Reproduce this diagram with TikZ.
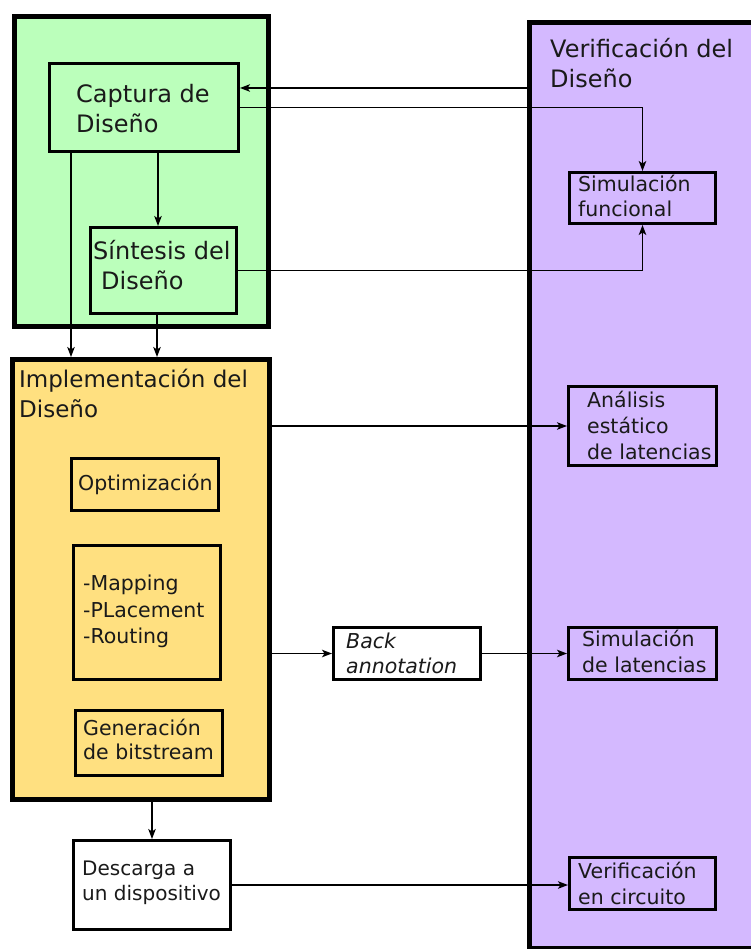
\documentclass[tikz,border=0pt]{standalone}
\usepackage{fontspec}
\setmainfont{DejaVu Sans}
\usetikzlibrary{arrows.meta}
\definecolor{capgreen}{HTML}{BBFFBB}
\definecolor{impyellow}{HTML}{FFE080}
\definecolor{verpurple}{HTML}{D4B9FF}
\definecolor{ink}{HTML}{1A1A1A}
\begin{document}
\begin{tikzpicture}[x=1pt,y=-1pt,
  stage/.style={draw=black,line width=5pt,inner sep=0pt,anchor=north west},
  blockbox/.style={draw=black,line width=3pt,inner sep=0pt,anchor=north west},
  arr/.style={line width=1.5pt,-{Stealth[length=10pt,width=7.5pt,inset=2.5pt]}},
  bigtxt/.style={anchor=base west,inner sep=0pt,text=ink,font=\fontsize{24}{28}\selectfont},
  midtxt/.style={anchor=base west,inner sep=0pt,text=ink,font=\fontsize{23}{28}\selectfont},
  smalltxt/.style={anchor=base west,inner sep=0pt,text=ink,font=\fontsize{20.5}{25}\selectfont},
  tinytxt/.style={anchor=base west,inner sep=0pt,text=ink,font=\fontsize{20}{24}\selectfont},
]
\useasboundingbox (0,0) rectangle (750,949);

% --- stage frames (positions are outer corners) ---
\node[stage,fill=capgreen,minimum width=254,minimum height=310] (capstage) at (12,14) {};
\node[stage,fill=impyellow,minimum width=257,minimum height=440] (impl) at (10,357) {};
\node[stage,fill=verpurple,minimum width=240,minimum height=926] (ver) at (527,20) {};

% --- blocks ---
\node[blockbox,minimum width=189,minimum height=88] (cap) at (48,62) {};
\node[blockbox,minimum width=146,minimum height=86] (sin) at (89,226) {};
\node[blockbox,minimum width=147,minimum height=52] (opt) at (70,457) {};
\node[blockbox,minimum width=147,minimum height=134] (map) at (72,544) {};
\node[blockbox,minimum width=147,minimum height=65] (gen) at (74,709) {};
\node[blockbox,minimum width=146,minimum height=51] (simf) at (568,171) {};
\node[blockbox,minimum width=148,minimum height=79] (ana) at (567,385) {};
\node[blockbox,fill=white,minimum width=147,minimum height=52] (back) at (332,626) {};
\node[blockbox,minimum width=148,minimum height=52] (siml) at (567,626) {};
\node[blockbox,fill=white,minimum width=157,minimum height=89] (desc) at (72,839) {};
\node[blockbox,minimum width=146,minimum height=52] (verif) at (568,856) {};

% --- helper coordinates for connector positions ---
\coordinate (fb) at (0,88);
\coordinate (xA) at (158,0);
\coordinate (xB) at (71,0);
\coordinate (xC) at (157,0);

% --- connectors ---
\draw[arr] (ver.west |- fb) -- (cap.east |- fb);
\draw[arr] (cap.east) -| (simf.north);
\draw[arr] (sin.east) -| (simf.south);
\draw[arr] (cap.south -| xA) -- (sin.north -| xA);
\draw[arr] (cap.south -| xB) -- (impl.north -| xB);
\draw[arr] (sin.south -| xC) -- (impl.north -| xC);
\draw[arr] (impl.east |- ana.west) -- (ana.west);
\draw[arr] (impl.east |- back.west) -- (back.west);
\draw[arr] (back.east) -- (siml.west);
\draw[arr] (impl.south -| desc.north) -- (desc.north);
\draw[arr] (desc.east) -- (verif.west |- desc.east);

% --- labels ---
\node[bigtxt] (capA) at (76,103) {Captura de};
\node[bigtxt] (capB) at (76,133) {Diseño};
\node[bigtxt] (sinA) at (93,260) {Síntesis del};
\node[bigtxt] (sinB) at (101,290) {Diseño};
\node[midtxt] (impA) at (19,387) {Implementación del};
\node[midtxt] (impB) at (19,417) {Diseño};
\node[bigtxt] (verA) at (550,58) {Verificación del};
\node[bigtxt] (verB) at (550,88) {Diseño};
\node[smalltxt] (optA) at (78,490) {Optimización};
\node[smalltxt] (mapA) at (83,590) {-Mapping};
\node[smalltxt] (mapB) at (83,617) {-PLacement};
\node[smalltxt] (mapC) at (83,643) {-Routing};
\node[smalltxt] (genA) at (83,735) {Generación};
\node[smalltxt] (genB) at (83,759) {de bitstream};
\node[smalltxt] (simfA) at (578,192) {Simulación};
\node[smalltxt] (simfB) at (578,217) {funcional};
\node[smalltxt] (anaA) at (587,407) {Análisis};
\node[smalltxt] (anaB) at (587,433) {estático};
\node[smalltxt] (anaC) at (587,459) {de latencias};
\node[smalltxt] (simlA) at (582,646) {Simulación};
\node[smalltxt] (simlB) at (582,672) {de latencias};
\node[smalltxt,font=\fontsize{20.5}{25}\selectfont\itshape] (backA) at (346,648) {Back};
\node[smalltxt,font=\fontsize{20.5}{25}\selectfont\itshape] (backB) at (346,673) {annotation};
\node[tinytxt] (descA) at (82,875) {Descarga a};
\node[tinytxt] (descB) at (82,900) {un dispositivo};
\node[smalltxt] (verifA) at (578,878) {Verificación};
\node[smalltxt] (verifB) at (578,904) {en circuito};
\end{tikzpicture}
\end{document}
